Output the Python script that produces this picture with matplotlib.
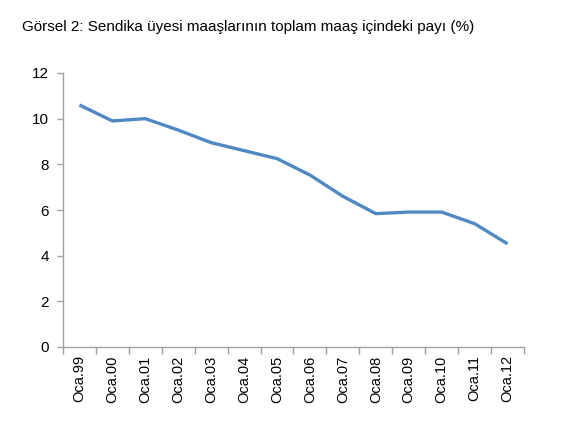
import matplotlib
matplotlib.use("Agg")
import matplotlib.pyplot as plt
import numpy as np

categories = ["Oca.99", "Oca.00", "Oca.01", "Oca.02", "Oca.03", "Oca.04", "Oca.05",
              "Oca.06", "Oca.07", "Oca.08", "Oca.09", "Oca.10", "Oca.11", "Oca.12"]
values = [10.6, 9.9, 10.0, 9.5, 8.95, 8.6, 8.25, 7.53, 6.6, 5.84, 5.91, 5.91, 5.4, 4.52]
yticks = [0, 2, 4, 6, 8, 10, 12]

plt.rcParams['font.family'] = ['Liberation Sans', 'DejaVu Sans']

fig = plt.figure(figsize=(5.63, 4.21), dpi=100)
ax = fig.add_axes([63/563, 1-347/421, (524-63)/563, (347-73)/421])

x = np.arange(len(categories))
ax.plot(x, values, color="#5088C3", lw=2.4, solid_capstyle="butt", solid_joinstyle="round")

ax.set_xlim(-0.5, len(categories)-0.5)
ax.set_ylim(0, 12)
ax.set_yticks(yticks)
ax.set_yticklabels([str(v) for v in yticks], fontsize=11)
ax.set_xticks(x)
ax.set_xticklabels(categories, rotation=90, fontsize=10.5)
ax.set_xticks(np.arange(-0.5, len(categories)), minor=True)

for s in ["top", "right"]:
    ax.spines[s].set_visible(False)
for s in ["left", "bottom"]:
    ax.spines[s].set_color("#A0A0A0")
    ax.spines[s].set_linewidth(1.0)

ax.tick_params(axis="y", direction="out", length=4, width=1, color="#A0A0A0", pad=6)
ax.tick_params(axis="x", which="major", length=0, pad=6)
ax.tick_params(axis="x", which="minor", direction="out", length=5, width=1, color="#A0A0A0")

fig.text(22/563, 1-27/421, "Görsel 2: Sendika üyesi maaşlarının toplam maaş içindeki payı (%)",
         fontsize=11.0, va="center", ha="left")

fig.savefig("out.png", dpi=100)
